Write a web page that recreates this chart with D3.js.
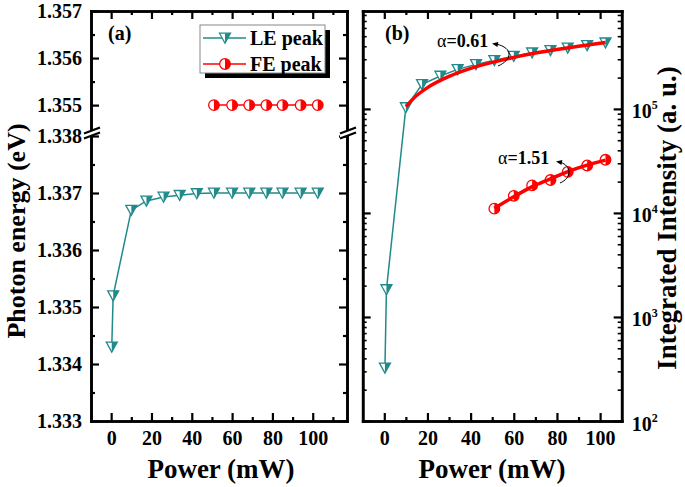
<!DOCTYPE html>
<html><head><meta charset="utf-8">
<script src="https://cdn.jsdelivr.net/npm/d3@7"></script>
<style>
body{margin:0;background:#fff;}
text{font-family:"Liberation Serif","Times New Roman",serif;font-weight:bold;fill:#000;}
</style></head><body>
<svg id="c" width="685" height="487" style="display:block"></svg>
<script>
// ---------- data ----------
const lePower      = [0.3, 1, 10, 17.5, 26, 34, 42.5, 51, 60, 68.5, 77, 85, 94, 102.5];
const leEnergy     = [1.3343, 1.3352, 1.3367, 1.33686, 1.33693, 1.33696, 1.33699, 1.3370, 1.3370, 1.3370, 1.3370, 1.3370, 1.3370, 1.3370];
const leIntensity  = [324, 1834, 1.03e5, 1.72e5, 2.07e5, 2.40e5, 2.68e5, 2.93e5, 3.21e5, 3.46e5, 3.65e5, 3.86e5, 4.07e5, 4.32e5];
const fePower      = [51, 60, 68.5, 77, 85, 94, 102.5];
const feEnergy     = [1.355, 1.355, 1.355, 1.355, 1.355, 1.355, 1.355];
const feIntensity  = [1.10e4, 1.46e4, 1.84e4, 2.07e4, 2.48e4, 2.86e4, 3.24e4];
const leFitPower   = [10, 15, 20, 30, 40, 50, 60, 70, 80, 90, 102.5];
const leFitValue   = [1.05e5, 1.345e5, 1.60e5, 2.05e5, 2.45e5, 2.80e5, 3.13e5, 3.44e5, 3.73e5, 4.01e5, 4.35e5];
const feFitPower   = [51, 60, 68.5, 77, 85, 94, 102.5];
const feFitValue   = [1.11e4, 1.43e4, 1.79e4, 2.13e4, 2.50e4, 2.88e4, 3.22e4];
const xMajor = [0, 20, 40, 60, 80, 100];
const xMinorA = [10, 30, 50, 70, 90, 110];
const xMinorB = [10, 30, 50, 70, 90];
const yUpMajor = [1.355, 1.356, 1.357];
const yUpMinor = [1.3555, 1.3565];
const yLoMajor = [1.333, 1.334, 1.335, 1.336, 1.337, 1.338];
const yLoMinor = [1.3335, 1.3345, 1.3355, 1.3365, 1.3375];
const yLogMajor = [1e2, 1e3, 1e4, 1e5];
const yLogMinor = [2e2,3e2,4e2,5e2,6e2,7e2,8e2,9e2, 2e3,3e3,4e3,5e3,6e3,7e3,8e3,9e3, 2e4,3e4,4e4,5e4,6e4,7e4,8e4,9e4, 2e5,3e5,4e5,5e5,6e5,7e5,8e5];
const seriesNames = ["LE peak", "FE peak"];
const fitLabels = ["0.61", "1.51"];

// ---------- setup ----------
const svg = d3.select("#c");
const TEAL = "#218a8a", RED = "#ff0000";
const xA = d3.scaleLinear([-10, 117], [91, 347]);
const yAup = d3.scaleLinear([1.35445, 1.357], [131, 11]);
const yAlo = d3.scaleLinear([1.333, 1.338], [421, 136]);
const xB = d3.scaleLinear([-10, 110], [362.7, 621.7]);
const yB = d3.scaleLog([100, 8.73e5], [421, 11]);

function styleAxis(g, tickW) {
  g.select(".domain").attr("stroke", "#000").attr("stroke-width", 2.6).attr("stroke-linecap", "square");
  g.selectAll(".tick line").attr("stroke", "#000").attr("stroke-width", tickW || 2.2);
  g.selectAll(".tick text").attr("font-size", 20).attr("font-family", '"Liberation Serif",serif').attr("font-weight", "bold");
}
function ax(gen, tx, ty, tickW) {
  const g = svg.append("g").attr("transform", `translate(${tx},${ty})`).call(gen);
  styleAxis(g, tickW);
  return g;
}

// ---------- panel (a) axes ----------
ax(d3.axisBottom(xA).tickValues(xMinorA).tickSize(-4).tickSizeOuter(0).tickFormat(""), 0, 421);
ax(d3.axisBottom(xA).tickValues(xMajor).tickSize(-8).tickSizeOuter(0).tickPadding(10).tickFormat(d3.format("d")), 0, 421);
ax(d3.axisTop(xA).tickValues(xMinorA).tickSize(-4).tickSizeOuter(0).tickFormat(""), 0, 11);
ax(d3.axisTop(xA).tickValues(xMajor).tickSize(-8).tickSizeOuter(0).tickFormat(""), 0, 11);
for (const [sc, maj, min] of [[yAup, yUpMajor, yUpMinor], [yAlo, yLoMajor, yLoMinor]]) {
  ax(d3.axisLeft(sc).tickValues(min).tickSize(-4).tickSizeOuter(0).tickFormat(""), 91, 0);
  ax(d3.axisLeft(sc).tickValues(maj).tickSize(-8).tickSizeOuter(0).tickPadding(9).tickFormat(d3.format(".3f")), 91, 0);
  ax(d3.axisRight(sc).tickValues(min).tickSize(-4).tickSizeOuter(0).tickFormat(""), 347, 0);
  ax(d3.axisRight(sc).tickValues(maj).tickSize(-8).tickSizeOuter(0).tickFormat(""), 347, 0);
}
// break marks
function breakMark(x, y) {
  const g = svg.append("g");
  g.append("polygon").attr("points", `${x-8},${y+1.5} ${x+8},${y-4.5} ${x+8},${y+0.5} ${x-8},${y+6.5}`).attr("fill", "#fff");
  g.append("line").attr("x1", x-8).attr("y1", y+1.5).attr("x2", x+8).attr("y2", y-4.5).attr("stroke", "#000").attr("stroke-width", 2.2);
  g.append("line").attr("x1", x-8).attr("y1", y+6.5).attr("x2", x+8).attr("y2", y+0.5).attr("stroke", "#000").attr("stroke-width", 2.2);
}
breakMark(92, 132);
breakMark(348, 132);

// ---------- panel (b) axes ----------
ax(d3.axisBottom(xB).tickValues(xMinorB).tickSize(-4).tickSizeOuter(0).tickFormat(""), 0, 421);
ax(d3.axisBottom(xB).tickValues(xMajor).tickSize(-8).tickSizeOuter(0).tickPadding(10).tickFormat(d3.format("d")), 0, 421);
ax(d3.axisTop(xB).tickValues(xMinorB).tickSize(-4).tickSizeOuter(0).tickFormat(""), 0, 11);
ax(d3.axisTop(xB).tickValues(xMajor).tickSize(-8).tickSizeOuter(0).tickFormat(""), 0, 11);
ax(d3.axisLeft(yB).tickValues(yLogMinor).tickSize(-4).tickSizeOuter(0).tickFormat(""), 362.7, 0, 1.6);
ax(d3.axisLeft(yB).tickValues(yLogMajor).tickSize(-8).tickSizeOuter(0).tickFormat(""), 362.7, 0);
ax(d3.axisRight(yB).tickValues(yLogMinor).tickSize(-4).tickSizeOuter(0).tickFormat(""), 621.7, 0, 1.6);
const gR = ax(d3.axisRight(yB).tickValues(yLogMajor).tickSize(-8).tickSizeOuter(0).tickPadding(10).tickFormat(d => d), 621.7, 0);
gR.selectAll(".tick text").each(function(d) {
  const t = d3.select(this).text("").attr("dy", "0.45em");
  t.append("tspan").text("10");
  t.append("tspan").attr("dy", "-0.75em").attr("font-size", 12).text(Math.round(Math.log10(d)));
});

// ---------- markers ----------
function triMarker(g, x, y) {
  const m = g.append("g").attr("transform", `translate(${x},${y})`);
  m.append("path").attr("d", "M-5.5,-4.8L5.5,-4.8L0,5.2Z").attr("fill", "#fff").attr("stroke", TEAL).attr("stroke-width", 1.3);
  m.append("path").attr("d", "M0,-4.8L5.5,-4.8L0,5.2Z").attr("fill", TEAL);
}
function circMarker(g, x, y) {
  const m = g.append("g").attr("transform", `translate(${x},${y})`);
  m.append("circle").attr("r", 5.3).attr("fill", "#fff").attr("stroke", RED).attr("stroke-width", 1.3);
  m.append("path").attr("d", "M0,-5.3A5.3,5.3 0 0 1 0,5.3Z").attr("fill", RED);
}

// ---------- panel (a) data ----------
const gA = svg.append("g");
const lineA = d3.line().x(d => xA(d[0])).y(d => yAlo(d[1]));
gA.append("path").datum(lePower.map((p, i) => [p, leEnergy[i]])).attr("d", lineA)
  .attr("fill", "none").attr("stroke", TEAL).attr("stroke-width", 1.5);
lePower.forEach((p, i) => triMarker(gA, xA(p), yAlo(leEnergy[i])));
const lineAu = d3.line().x(d => xA(d[0])).y(d => yAup(d[1]));
gA.append("path").datum(fePower.map((p, i) => [p, feEnergy[i]])).attr("d", lineAu)
  .attr("fill", "none").attr("stroke", RED).attr("stroke-width", 1.5);
fePower.forEach((p, i) => circMarker(gA, xA(p), yAup(feEnergy[i])));

// ---------- panel (b) data ----------
const gB = svg.append("g");
const lineB = d3.line().x(d => xB(d[0])).y(d => yB(d[1]));
const lineBc = d3.line().x(d => xB(d[0])).y(d => yB(d[1])).curve(d3.curveMonotoneX);
gB.append("path").datum(lePower.map((p, i) => [p, leIntensity[i]])).attr("d", lineB)
  .attr("fill", "none").attr("stroke", TEAL).attr("stroke-width", 1.5);
gB.append("path").datum(fePower.map((p, i) => [p, feIntensity[i]])).attr("d", lineB)
  .attr("fill", "none").attr("stroke", RED).attr("stroke-width", 1.5);
lePower.forEach((p, i) => triMarker(gB, xB(p), yB(leIntensity[i])));
fePower.forEach((p, i) => circMarker(gB, xB(p), yB(feIntensity[i])));
gB.append("path").datum(leFitPower.map((p, i) => [p, leFitValue[i]])).attr("d", lineBc)
  .attr("fill", "none").attr("stroke", RED).attr("stroke-width", 3.5);
gB.append("path").datum(feFitPower.map((p, i) => [p, feFitValue[i]])).attr("d", lineBc)
  .attr("fill", "none").attr("stroke", RED).attr("stroke-width", 3.5);

// annotations
function alpha(x, y, v) {
  const t = svg.append("text").attr("x", x).attr("y", y).attr("font-size", 18);
  t.append("tspan").attr("font-weight", "normal").text("α");
  t.append("tspan").text("=" + v);
}
alpha(437, 47, fitLabels[0]);
alpha(498, 164, fitLabels[1]);
function arcArrow(d, hx, hy, ang) {
  svg.append("path").attr("d", d).attr("fill", "none").attr("stroke", "#000").attr("stroke-width", 1);
  svg.append("path").attr("d", "M0,0L6,-2.5L6,2.5Z").attr("fill", "#000")
    .attr("transform", `translate(${hx},${hy}) rotate(${ang})`);
}
arcArrow("M498,66 C512,60 514,48 496,44", 492, 43.5, 10);
arcArrow("M560,183 C572,178 572,166 560,162", 556, 161.5, 10);

// panel labels
svg.append("text").attr("x", 108).attr("y", 40).attr("font-size", 20).text("(a)");
svg.append("text").attr("x", 385).attr("y", 40).attr("font-size", 20).text("(b)");

// legend
const lg = svg.append("g");
lg.append("rect").attr("x", 205).attr("y", 30).attr("width", 125).attr("height", 48).attr("fill", "#000");
lg.append("rect").attr("x", 200).attr("y", 25).attr("width", 125).attr("height", 48).attr("fill", "#fff").attr("stroke", "#888").attr("stroke-width", 1);
[[38, TEAL, triMarker], [64, RED, circMarker]].forEach(([yy, col, mk], i) => {
  lg.append("line").attr("x1", 203).attr("x2", 246).attr("y1", yy).attr("y2", yy).attr("stroke", col).attr("stroke-width", 1.5);
  mk(lg, 225, yy);
  lg.append("text").attr("x", 250).attr("y", yy + 7).attr("font-size", 20).text(seriesNames[i]);
});

// axis titles
svg.append("text").attr("x", 221).attr("y", 478).attr("text-anchor", "middle").attr("font-size", 27).text("Power (mW)");
svg.append("text").attr("x", 492).attr("y", 478).attr("text-anchor", "middle").attr("font-size", 27).text("Power (mW)");
svg.append("text").attr("transform", "translate(25,231) rotate(-90)").attr("text-anchor", "middle").attr("font-size", 26).text("Photon energy (eV)");
svg.append("text").attr("transform", "translate(676,218) rotate(-90)").attr("text-anchor", "middle").attr("font-size", 27).text("Integrated Intensity (a. u.)");
</script></body></html>
